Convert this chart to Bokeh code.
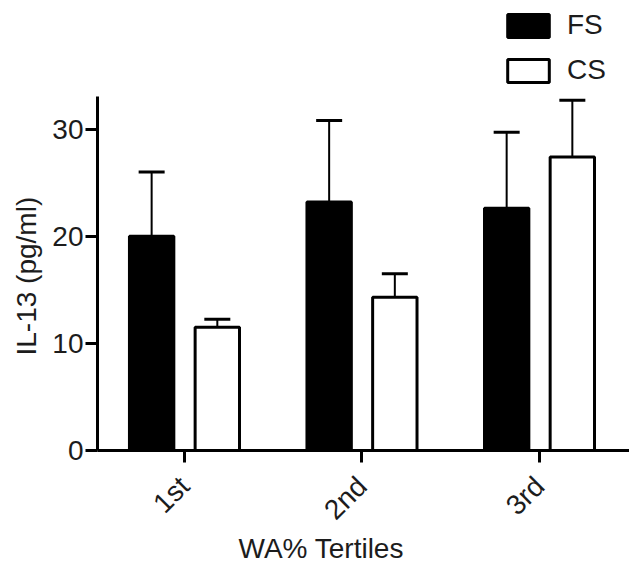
import math
from bokeh.plotting import figure
from bokeh.models import (ColumnDataSource, Range1d, FixedTicker, Whisker, TeeHead,
                          Legend, LegendItem, Title)
from bokeh.transform import dodge
from bokeh.embed import file_html
from bokeh.resources import INLINE

categories = ["1st", "2nd", "3rd"]
fs_mean = [20.0, 23.2, 22.6]
fs_err = [6.0, 7.6, 7.1]
cs_mean = [11.5, 14.3, 27.4]
cs_err = [0.75, 2.2, 5.3]
y_ticks = [0, 10, 20, 30]
y_axis_max = 33

x_pos = list(range(1, len(categories) + 1))
src = ColumnDataSource(dict(
    x=x_pos,
    fs=fs_mean,
    fs_up=[m + e for m, e in zip(fs_mean, fs_err)],
    cs=cs_mean,
    cs_up=[m + e for m, e in zip(cs_mean, cs_err)],
))

FONT = "Liberation Sans"
TXT = "#1c1c1c"

p = figure(width=629, height=563,
           x_range=Range1d(0.51, 3.507), y_range=Range1d(0, 42.0),
           output_backend="svg", toolbar_location=None,
           min_border_left=97, min_border_right=0,
           min_border_top=0, min_border_bottom=113)
p.outline_line_color = None
p.xgrid.visible = False
p.ygrid.visible = False

OFF = 0.185
W = 0.25
fs_r = p.vbar(x=dodge("x", -OFF), top="fs", width=W, source=src,
              fill_color="black", line_color="black", line_width=3)
cs_r = p.vbar(x=dodge("x", OFF), top="cs", width=W, source=src,
              fill_color="white", line_color="black", line_width=3)

for col, up, off in (("fs", "fs_up", -OFF), ("cs", "cs_up", OFF)):
    wk = Whisker(base=dodge("x", off), lower=col, upper=up, source=src,
                 line_color="black", line_width=2,
                 upper_head=TeeHead(size=26, line_width=3, line_color="black"),
                 lower_head=None, level="underlay")
    p.add_layout(wk)

# axes
for ax in (p.xaxis[0], p.yaxis[0]):
    ax.axis_line_width = 3
    ax.axis_line_color = "black"
    ax.major_tick_line_width = 3
    ax.major_tick_line_color = "black"
    ax.major_tick_in = 0
    ax.major_tick_out = 12
    ax.minor_tick_line_color = None
    ax.major_label_text_font = FONT
    ax.major_label_text_font_size = "28px"
    ax.major_label_text_color = TXT

p.yaxis.ticker = FixedTicker(ticks=y_ticks)
p.yaxis.bounds = (0, y_axis_max)
p.yaxis.major_label_standoff = 2

ytitle = Title(text="IL-13 (pg/ml)", align="left", offset=95, standoff=16,
               text_font=FONT, text_font_size="28px", text_font_style="normal",
               text_color=TXT)
p.add_layout(ytitle, "left")

p.xaxis.ticker = FixedTicker(ticks=x_pos)
p.xaxis.major_label_overrides = {x: c for x, c in zip(x_pos, categories)}
p.xaxis.major_label_orientation = math.pi / 4
p.xaxis.major_label_standoff = 19

xtitle = Title(text="WA% Tertiles", align="left", offset=141, standoff=-17,
               text_font=FONT, text_font_size="28px", text_font_style="normal",
               text_color=TXT)
p.add_layout(xtitle, "below")

legend = Legend(items=[LegendItem(label="FS", renderers=[fs_r]),
                       LegendItem(label="CS", renderers=[cs_r])],
                location=(405, 364), orientation="vertical",
                glyph_width=52, glyph_height=29, label_height=32,
                spacing=13, padding=0, margin=0, label_standoff=13,
                label_text_font=FONT, label_text_font_size="28px",
                label_text_color=TXT, border_line_color=None,
                background_fill_alpha=0)
p.add_layout(legend, "center")

open("out.html", "w").write(file_html(p, INLINE))
